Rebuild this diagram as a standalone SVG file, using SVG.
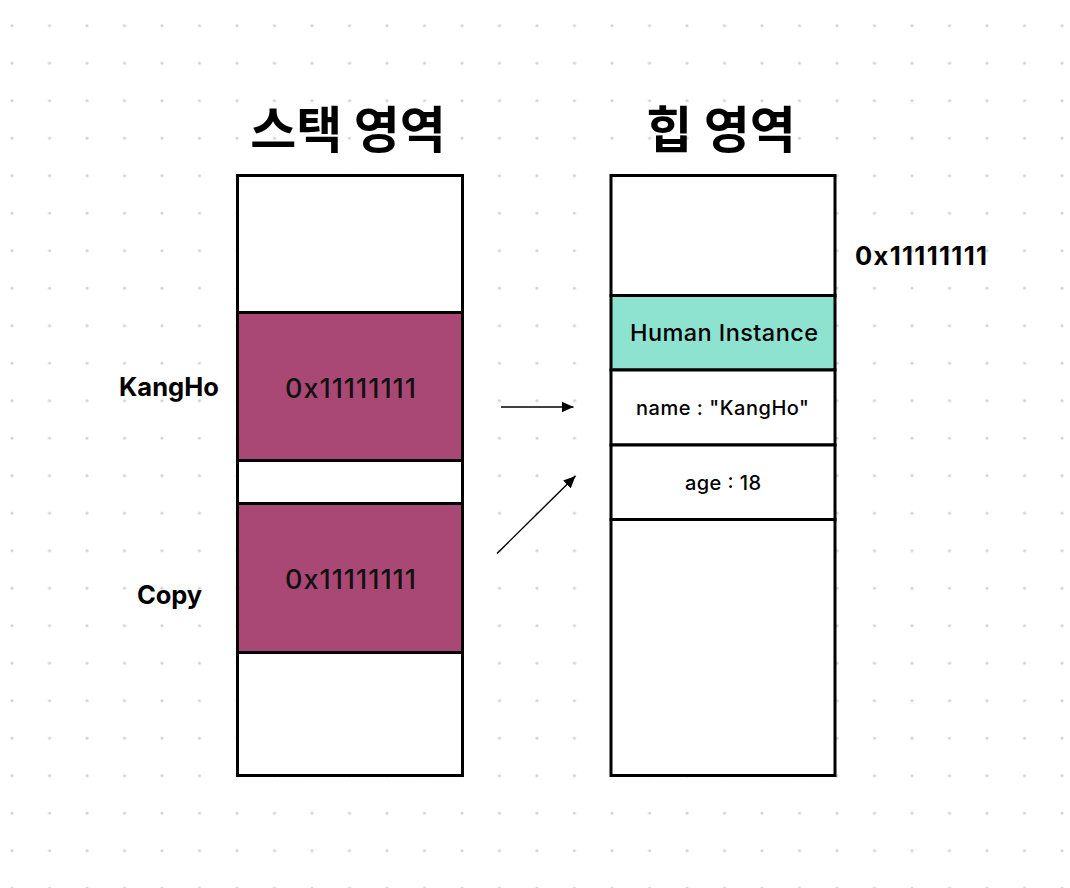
<svg xmlns="http://www.w3.org/2000/svg" width="1070" height="888" viewBox="0 0 1070 888">
<defs>
<pattern id="dots" x="-6.75" y="6.95" width="37.5" height="37.5" patternUnits="userSpaceOnUse">
<circle cx="18.75" cy="18.75" r="1.6" fill="#d2d2d2"/>
</pattern>
<marker id="arrow2" viewBox="0 0 10 10" refX="10" refY="5" markerWidth="12" markerHeight="12" markerUnits="userSpaceOnUse" orient="auto">
<path d="M0,0.5 L10,5 L0,9.5 Z" fill="#000"/>
</marker>
</defs>
<style>
.cell{stroke:#000;stroke-width:3;}
.white{fill:#fff;}
.mag{fill:#A94874;}
.teal{fill:#8EE2D0;}
.title{font-family:"Noto Sans CJK KR",sans-serif;font-weight:700;font-size:50px;fill:#000;text-anchor:middle;}
.lbl{font-family:Inter,"Noto Sans",sans-serif;font-weight:700;font-size:25.5px;fill:#000;}
.val{font-family:Inter,"Noto Sans",sans-serif;font-weight:500;font-size:27px;fill:#111;}
.field{font-family:Inter,"Noto Sans",sans-serif;font-weight:500;fill:#000;}
.conn{stroke:#000;fill:none;}
</style>
<rect width="1070" height="888" fill="#fff"/>
<rect width="1070" height="888" fill="url(#dots)"/>

<g id="title-stack"><text class="title" x="348" y="148">스택 영역</text></g>
<g id="title-heap"><text class="title" x="721" y="148">힙 영역</text></g>

<g id="stack">
<g id="stack-top"><rect class="cell white" x="237.5" y="175.5" width="225" height="137"/></g>
<g id="stack-kangho"><rect class="cell mag" x="237.5" y="312.5" width="225" height="148"/><text class="val" x="285" y="398" textLength="131" lengthAdjust="spacing">0x11111111</text></g>
<g id="stack-gap"><rect class="cell white" x="237.5" y="460.5" width="225" height="43"/></g>
<g id="stack-copy"><rect class="cell mag" x="237.5" y="503.5" width="225" height="149"/><text class="val" x="285" y="589" textLength="131" lengthAdjust="spacing">0x11111111</text></g>
<g id="stack-bottom"><rect class="cell white" x="237.5" y="652.5" width="225" height="123"/></g>
</g>

<g id="heap">
<g id="heap-top"><rect class="cell white" x="611" y="175.5" width="224" height="120"/></g>
<g id="heap-instance"><rect class="cell teal" x="611" y="295.5" width="224" height="74.5"/><text class="field" x="630" y="341" font-size="23.5" textLength="188" lengthAdjust="spacing">Human Instance</text></g>
<g id="heap-name"><rect class="cell white" x="611" y="370" width="224" height="75"/><text class="field" x="636" y="415" font-size="20" textLength="173" lengthAdjust="spacing">name : "KangHo"</text></g>
<g id="heap-age"><rect class="cell white" x="611" y="445" width="224" height="74.5"/><text class="field" x="685" y="490" font-size="20" textLength="76" lengthAdjust="spacing">age : 18</text></g>
<g id="heap-rest"><rect class="cell white" x="611" y="519.5" width="224" height="256"/></g>
</g>

<g id="label-kangho"><text class="lbl" x="119" y="396" textLength="100" lengthAdjust="spacing">KangHo</text></g>
<g id="label-copy"><text class="lbl" x="137" y="604" textLength="65" lengthAdjust="spacing">Copy</text></g>
<g id="label-addr"><text class="lbl" x="855" y="265" textLength="132" lengthAdjust="spacing">0x11111111</text></g>

<g id="connectors">
<path class="conn" d="M501,407 L573.5,407" stroke-width="1.6" marker-end="url(#arrow2)"/>
<path class="conn" d="M497,553.5 L575.5,476" stroke-width="1.4" marker-end="url(#arrow2)"/>
</g>
</svg>
